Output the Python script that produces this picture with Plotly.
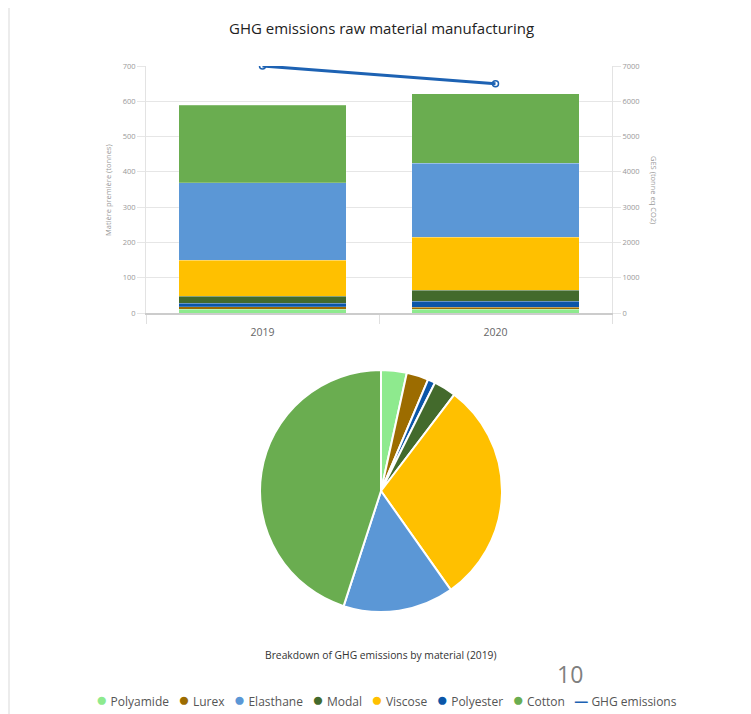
import plotly.graph_objects as go

# the page adds an 8px body margin, so the figure is drawn 8px smaller
OFF = 8
W, H = 751 - OFF, 714 - OFF

YEARS = ['2019', '2020']

# stack order, bottom to top
MATERIALS = ['Polyamide', 'Lurex', 'Polyester', 'Modal', 'Viscose', 'Elasthane', 'Cotton']
TONNES_2019 = [11, 7, 10, 19, 103, 219, 220]
TONNES_2020 = [10, 7, 17, 30, 150, 210, 198]

GHG_TOTAL = [7000, 6500]

# GHG breakdown 2019 (tonne eq CO2), same order as MATERIALS
GHG_2019 = [240, 205, 70, 210, 2090, 1035, 3150]

LEGEND_ORDER = ['Polyamide', 'Lurex', 'Elasthane', 'Modal', 'Viscose', 'Polyester', 'Cotton']

COLORS = {
    'Polyamide': '#8eea8e',
    'Lurex': '#9c6c00',
    'Polyester': '#0b56a8',
    'Modal': '#436a2c',
    'Viscose': '#ffc000',
    'Elasthane': '#5b97d6',
    'Cotton': '#6aad50',
}
LINE_COLOR = '#1d62b3'
GRID = '#e6e6e6'
TICK_FONT = dict(family='Open Sans', size=7.5, color='#999999')


def px_x(x):
    return (x - OFF) / W


def px_y(y):
    return 1 - (y - OFF) / H


fig = go.Figure()

for i, m in enumerate(MATERIALS):
    fig.add_trace(go.Bar(
        x=YEARS,
        y=[TONNES_2019[i], TONNES_2020[i]],
        name=m,
        marker=dict(color=COLORS[m], line=dict(color='rgba(255,255,255,0.35)', width=0.6)),
        width=0.72,
    ))

fig.add_trace(go.Scatter(
    x=YEARS,
    y=GHG_TOTAL,
    name='GHG emissions',
    yaxis='y2',
    mode='lines+markers',
    line=dict(color=LINE_COLOR, width=3),
    marker=dict(symbol='circle-open', size=6, color=LINE_COLOR, line=dict(width=1.5)),
))

fig.add_trace(go.Pie(
    labels=MATERIALS,
    values=GHG_2019,
    sort=False,
    direction='clockwise',
    rotation=0,
    textinfo='none',
    marker=dict(colors=[COLORS[m] for m in MATERIALS], line=dict(color='white', width=2)),
    domain=dict(x=[px_x(259), px_x(503)], y=[px_y(612), px_y(370)]),
))

# legend line, drawn as text so spacing matches the original
SP = '\u00a0'
items = [f'<span style="color:{COLORS[m]};font-size:19px">●</span>{SP}{m}' for m in LEGEND_ORDER]
items.append(f'<span style="color:{LINE_COLOR};font-size:14px"><b>—</b></span>{SP}GHG emissions')
legend_text = (SP * 3).join(items)

fig.update_layout(
    width=W,
    height=H,
    margin=dict(l=0, r=0, t=0, b=0, autoexpand=False),
    paper_bgcolor='white',
    plot_bgcolor='white',
    barmode='stack',
    showlegend=False,
    font=dict(family='Open Sans', color='#555555'),
    xaxis=dict(
        domain=[px_x(146), px_x(612)],
        type='category',
        showgrid=False,
        showline=True, linecolor='#cccccc', linewidth=2,
        ticks='outside', tickson='boundaries', ticklen=9, tickcolor='#e0e0e0',
        ticklabelstandoff=8,
        tickfont=dict(family='Open Sans', size=10.5, color='#666666'),
    ),
    yaxis=dict(
        domain=[px_y(313), px_y(66)],
        range=[0, 700],
        dtick=100,
        showgrid=True, gridcolor=GRID, zeroline=False,
        showline=True, linecolor='#e3e3e3', linewidth=1,
        ticks='outside', ticklen=8, tickcolor=GRID,
        tickfont=TICK_FONT,
    ),
    yaxis2=dict(
        overlaying='y',
        side='right',
        range=[0, 7000],
        dtick=1000,
        showgrid=False, zeroline=False,
        showline=True, linecolor='#e3e3e3', linewidth=1,
        ticks='outside', ticklen=8, tickcolor=GRID,
        tickfont=TICK_FONT,
    ),
    shapes=[
        dict(type='line', xref='paper', yref='paper', x0=1 / W, x1=1 / W, y0=0, y1=1,
             line=dict(color='#ececec', width=2), layer='below'),
    ],
    annotations=[
        dict(text='GHG emissions raw material manufacturing', x=px_x(381), y=px_y(28),
             xref='paper', yref='paper', showarrow=False, xanchor='center', yanchor='middle',
             font=dict(family='Open Sans', size=15, color='#222222')),
        dict(text='Matière première (tonnes)', x=px_x(108), y=px_y(190),
             xref='paper', yref='paper', showarrow=False, textangle=-90,
             xanchor='center', yanchor='middle',
             font=dict(family='Open Sans', size=7.5, color='#999999')),
        dict(text='GES (tonne eq CO2)', x=px_x(654), y=px_y(190),
             xref='paper', yref='paper', showarrow=False, textangle=90,
             xanchor='center', yanchor='middle',
             font=dict(family='Open Sans', size=7.5, color='#999999')),
        dict(text='Breakdown of GHG emissions by material (2019)', x=px_x(381), y=px_y(655),
             xref='paper', yref='paper', showarrow=False, xanchor='center', yanchor='middle',
             font=dict(family='Open Sans', size=10.3, color='#333333')),
        dict(text='10', x=px_x(570), y=px_y(674),
             xref='paper', yref='paper', showarrow=False, xanchor='center', yanchor='middle',
             font=dict(family='Open Sans', size=23, color='#7f7f7f')),
        dict(text=legend_text, x=px_x(386), y=px_y(699),
             xref='paper', yref='paper', showarrow=False, xanchor='center', yanchor='middle',
             font=dict(family='Open Sans', size=12, color='#555555')),
    ],
)

fig.write_html('out.html')
